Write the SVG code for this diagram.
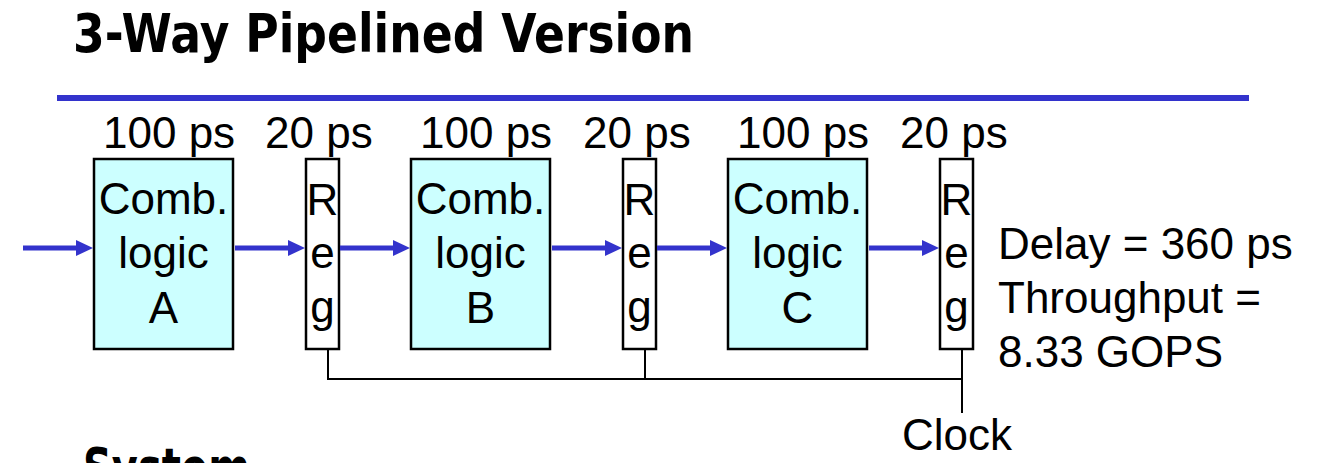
<svg xmlns="http://www.w3.org/2000/svg" width="1321" height="463" viewBox="0 0 1321 463">
<defs>
<style>
.t{font-family:"Liberation Sans",Arial,sans-serif;font-size:44px;fill:#000}
.c{text-anchor:middle}
.title{font-family:"DejaVu Sans","Liberation Sans",sans-serif;font-weight:bold;font-size:54px;fill:#000}
.comb{fill:#CCFFFF;stroke:#000;stroke-width:2.5}
.reg{fill:#FFFFFF;stroke:#000;stroke-width:2.5}
.arr{stroke:#3333CC;stroke-width:5;fill:none;marker-end:url(#ah)}
.wire{stroke:#000;stroke-width:2;fill:none}
</style>
<marker id="ah" markerUnits="userSpaceOnUse" markerWidth="17" markerHeight="16" refX="5" refY="8" orient="auto">
<path d="M0,0 L17,8 L0,16 Z" fill="#3333CC"/>
</marker>
</defs>
<rect width="1321" height="463" fill="#FFFFFF"/>
<text class="title" x="73" y="52" textLength="621" lengthAdjust="spacingAndGlyphs">3-Way Pipelined Version</text>
<rect x="57" y="95" width="1192" height="6" fill="#3333CC"/>

<g id="labels">
<text class="t" x="103" y="148">100 ps</text>
<text class="t" x="265" y="148">20 ps</text>
<text class="t" x="420" y="148">100 ps</text>
<text class="t" x="583" y="148">20 ps</text>
<text class="t" x="737" y="148">100 ps</text>
<text class="t" x="900" y="148">20 ps</text>
</g>

<g id="combA">
<rect class="comb" x="94" y="159" width="139" height="190"/>
<text class="t c" x="163.5" y="214">Comb.</text>
<text class="t c" x="163.5" y="268">logic</text>
<text class="t c" x="163.5" y="323">A</text>
</g>
<g id="reg1">
<rect class="reg" x="306" y="159" width="33" height="190"/>
<text class="t c" x="322.5" y="215">R</text>
<text class="t c" x="322.5" y="268">e</text>
<text class="t c" x="322.5" y="322">g</text>
</g>
<g id="combB">
<rect class="comb" x="411" y="159" width="139" height="190"/>
<text class="t c" x="480.5" y="214">Comb.</text>
<text class="t c" x="480.5" y="268">logic</text>
<text class="t c" x="480.5" y="323">B</text>
</g>
<g id="reg2">
<rect class="reg" x="623" y="159" width="33" height="190"/>
<text class="t c" x="639.5" y="215">R</text>
<text class="t c" x="639.5" y="268">e</text>
<text class="t c" x="639.5" y="322">g</text>
</g>
<g id="combC">
<rect class="comb" x="728" y="159" width="139" height="190"/>
<text class="t c" x="797.5" y="214">Comb.</text>
<text class="t c" x="797.5" y="268">logic</text>
<text class="t c" x="797.5" y="323">C</text>
</g>
<g id="reg3">
<rect class="reg" x="940" y="159" width="33" height="190"/>
<text class="t c" x="956.5" y="215">R</text>
<text class="t c" x="956.5" y="268">e</text>
<text class="t c" x="956.5" y="322">g</text>
</g>

<g id="connectors">
<line class="arr" x1="23" y1="248" x2="81" y2="248"/>
<line class="arr" x1="235" y1="248" x2="293" y2="248"/>
<line class="arr" x1="340" y1="248" x2="398" y2="248"/>
<line class="arr" x1="552" y1="248" x2="610" y2="248"/>
<line class="arr" x1="657" y1="248" x2="715" y2="248"/>
<line class="arr" x1="869" y1="248" x2="927" y2="248"/>
<polyline class="wire" points="328,349 328,379 962,379"/>
<line class="wire" x1="645" y1="349" x2="645" y2="379"/>
<line class="wire" x1="962" y1="349" x2="962" y2="413"/>
</g>

<g id="notes">
<text class="t" x="998" y="259">Delay = 360 ps</text>
<text class="t" x="998" y="313">Throughput =</text>
<text class="t" x="998" y="367">8.33 GOPS</text>
<text class="t c" x="957" y="450">Clock</text>
</g>
<text class="title" x="83" y="486" font-size="40" textLength="167" lengthAdjust="spacingAndGlyphs">System</text>
</svg>
